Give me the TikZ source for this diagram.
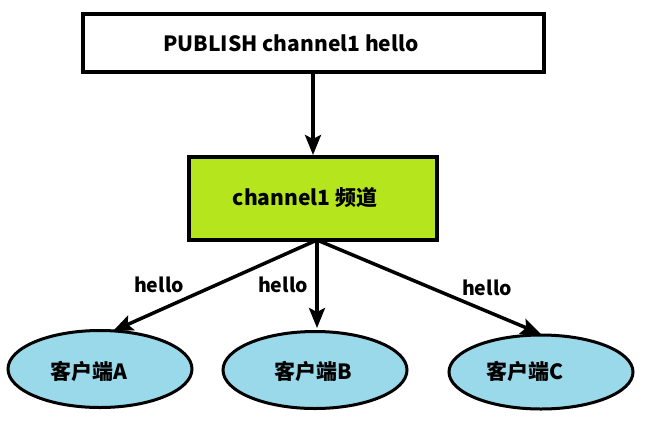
\documentclass[tikz,border=0pt]{standalone}
\usepackage{fontspec}
\setmainfont{Noto Sans CJK SC}
\usetikzlibrary{arrows.meta,shapes.geometric}
\definecolor{lime}{HTML}{B5E61D}
\definecolor{sky}{HTML}{99D9EA}
\tikzset{
  boxst/.style={draw=black,line width=4pt,inner sep=0pt},
  client/.style={ellipse,draw=black,line width=3pt,fill=sky,minimum width=184pt,minimum height=77pt,inner sep=0pt},
  txt/.style={inner sep=0pt,font=\bfseries\fontsize{21}{24}\selectfont},
  conn/.style={line width=3.5pt,-{Stealth[length=20pt,width=16pt,inset=4pt]}},
  lbl/.style={font=\bfseries\fontsize{19.5}{22}\selectfont,inner sep=0pt}
}
\begin{document}
\begin{tikzpicture}[x=1pt,y=-1pt]
\useasboundingbox (0,0) rectangle (652,442);
\fill[white] (0,0) rectangle (652,442);
\node[boxst,fill=white,minimum width=461pt,minimum height=58pt] (pub) at (313,42.5) {};
\node[txt] (pubt) at (291,43) {PUBLISH channel1 hello};
\node[boxst,fill=lime,minimum width=248pt,minimum height=83pt] (ch) at (312.5,198.5) {};
\node[txt] (cht) at (305,198) {channel1 频道};
\node[client] (A) at (100,369) {};
\node[client] (B) at (315,370) {};
\node[client,minimum height=74pt] (C) at (541,372) {};
\node[txt] (At) at (89,371) {客户端A};
\node[txt] (Bt) at (313.5,371) {客户端B};
\node[txt] (Ct) at (525,371) {客户端C};
\coordinate (o) at (317,240);
\draw[conn] (pub.south -| 313,0) -- (313,155);
\draw[conn] (o) -- (113,331);
\draw[conn] (o) -- (317,328);
\draw[conn] (o) -- (541,334);
\node[lbl] (h1) at (159,285) {hello};
\node[lbl] (h2) at (283,285) {hello};
\node[lbl] (h3) at (487,288) {hello};
\end{tikzpicture}
\end{document}
